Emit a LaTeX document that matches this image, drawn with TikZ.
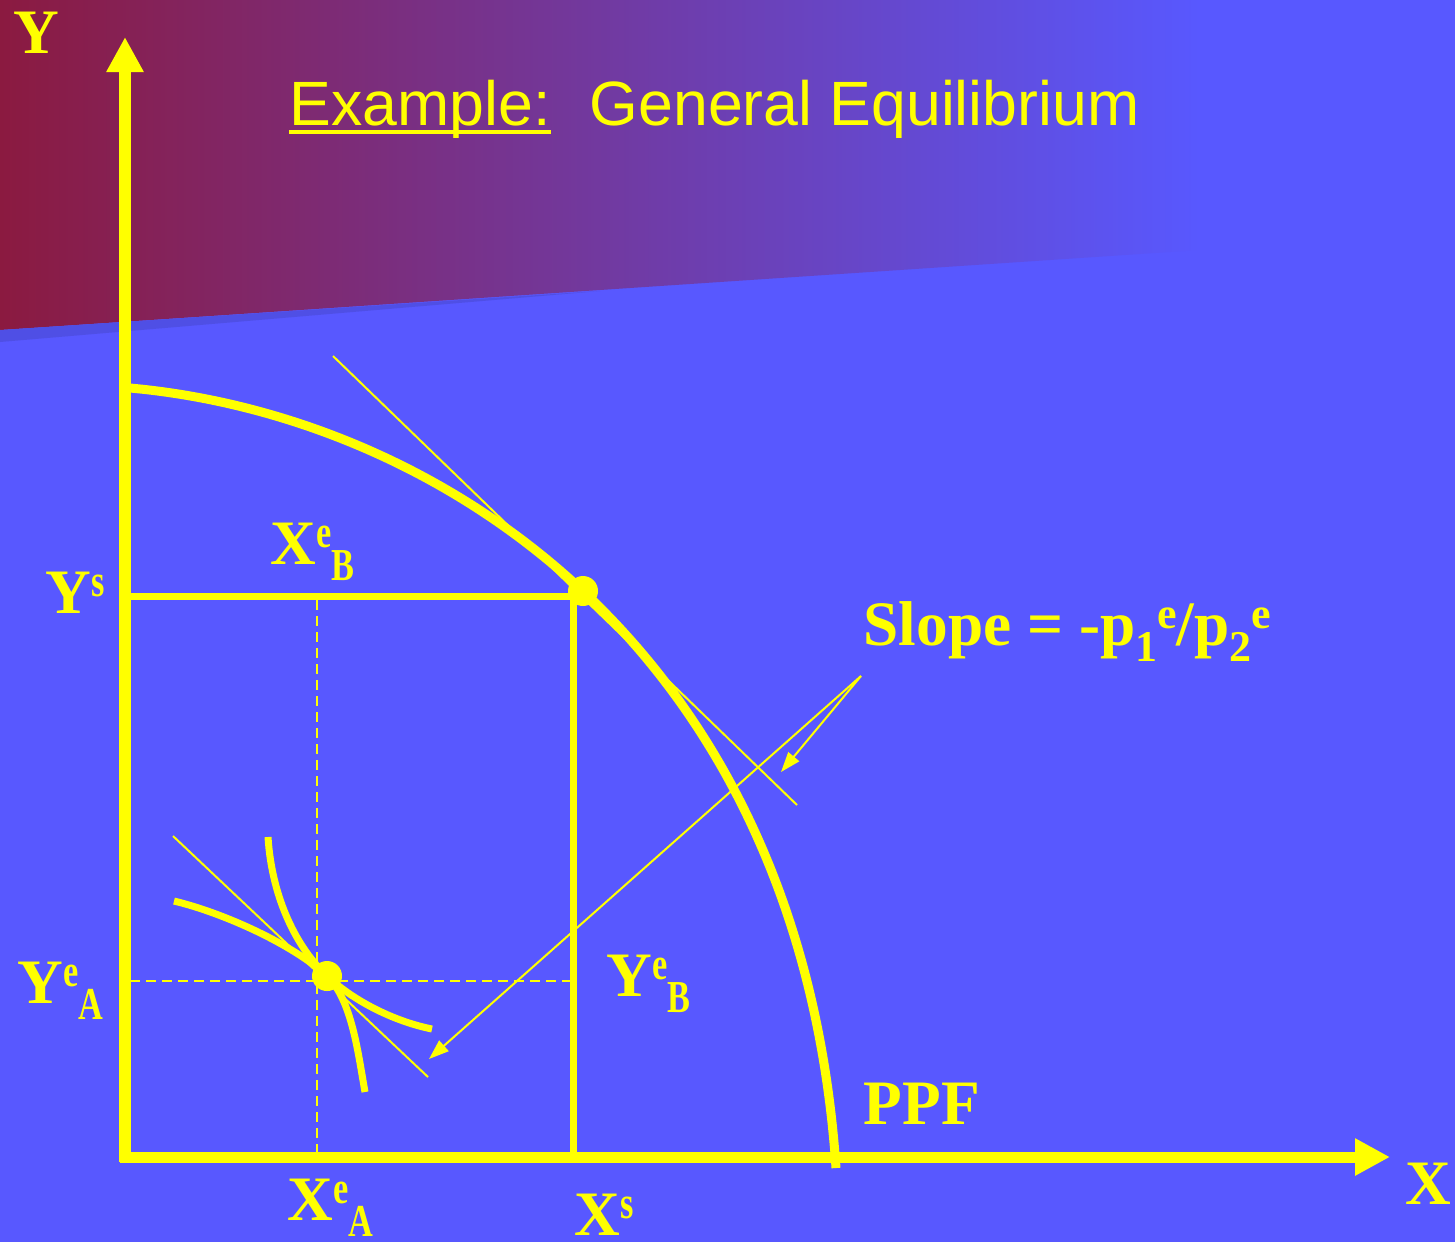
\documentclass[tikz,border=0pt]{standalone}
\usepackage{fontspec}
\setmainfont{Liberation Serif}
\newfontfamily\titlefont{Liberation Sans}
\usepackage{xcolor}
\usepackage{graphicx}
\definecolor{slideblue}{RGB}{88,88,255}
\definecolor{slidewine}{RGB}{139,26,64}
\definecolor{ppfyellow}{RGB}{255,255,0}
\usetikzlibrary{arrows.meta, positioning}
\newcommand{\supr}[1]{\raisebox{0.17cm}{\scalebox{0.75}[1]{\fontsize{13}{13}\selectfont #1}}}
\newcommand{\subr}[1]{\raisebox{-0.16cm}{\scalebox{0.75}[1]{\fontsize{13}{13}\selectfont #1}}}
\newcommand{\psup}[1]{\raisebox{0.17cm}{\fontsize{12.5}{12.5}\selectfont #1}}
\newcommand{\psub}[1]{\raisebox{-0.16cm}{\fontsize{12.5}{12.5}\selectfont #1}}

\begin{document}
\begin{tikzpicture}[x=0.01cm, y=-0.01cm,
        axis/.style={draw=ppfyellow, line width=0.11cm, -{Triangle[length=0.35cm, width=0.35cm]}},
        ppfline/.style={draw=ppfyellow, line width=0.09cm},
        boxline/.style={draw=ppfyellow, line width=0.07cm},
        icline/.style={draw=ppfyellow, line width=0.07cm},
        tanline/.style={draw=ppfyellow, line width=0.02cm},
        guide/.style={draw=ppfyellow, line width=0.018cm, dash pattern=on 0.1cm off 0.06cm},
        pointer/.style={draw=ppfyellow, line width=0.02cm, -{Triangle[length=0.2cm, width=0.14cm]}},
        eqdot/.style={circle, fill=ppfyellow, inner sep=0pt, minimum size=0.30cm},
        lbl/.style={text=ppfyellow, font=\fontsize{18}{18}\selectfont\bfseries, inner sep=0pt, anchor=base west},
        titletext/.style={text=ppfyellow, font=\titlefont\fontsize{17.8}{18}\selectfont, inner sep=0pt, anchor=base west}]

    % background
    \useasboundingbox (0,0) rectangle (1455,1242);
    \fill[slideblue] (0,0) rectangle (1455,1242);
    \shade[left color=slidewine, right color=slideblue] (0,0) -- (1200,0) -- (1200,250) -- (0,330) -- cycle;
    \fill[slideblue!90!black] (0,330) -- (600,291) -- (0,342) -- cycle;

    % title
    \node[titletext] (ex) at (289,125) {Example:};
    \node[titletext] (title) at (589,125) {General Equilibrium};
    \draw[ppfyellow, line width=0.04cm] ([yshift=-0.07cm]ex.base west) -- ([yshift=-0.07cm]ex.base east);

    \coordinate (origin) at (125,1162);
    \coordinate (ytip) at (125,37);
    \coordinate (xstart) at (120,1157);
    \coordinate (xtip) at (1390,1157);
    \coordinate (ppftop) at (130,388);
    \coordinate (ppfbot) at (836,1168);
    \coordinate (ysleft) at (129,596);
    \coordinate (ysright) at (576,596);
    \coordinate (xstop) at (573,596);
    \coordinate (xsbot) at (573,1154);
    \coordinate (xbtop) at (317,600);
    \coordinate (xbbot) at (317,1152);
    \coordinate (yaleft) at (130,981);
    \coordinate (yaright) at (570,981);
    \coordinate (tanBa) at (333,356);
    \coordinate (tanBb) at (797,805);
    \coordinate (tanAa) at (173,836);
    \coordinate (tanAb) at (428,1077);
    \coordinate (icAtop) at (268,837);
    \coordinate (icAend) at (432,1029);
    \coordinate (icBtop) at (174,901);
    \coordinate (icBend) at (365,1092);
    \coordinate (apex) at (861,676);
    \coordinate (tipB) at (781,772);
    \coordinate (tipA) at (429,1059);

    % guides and box
    \path[guide] (xbtop) -- (xbbot);
    \path[guide] (yaleft) -- (yaright);
    \path[boxline] (ysleft) -- (ysright);
    \path[boxline] (xstop) -- (xsbot);

    % axes
    \path[axis] (origin) -- (ytip);
    \path[axis] (xstart) -- (xtip);

    % PPF and price line
    \path[ppfline] (ppftop) .. controls (430,415) and (800,640) .. (ppfbot);
    \path[tanline] (tanBa) -- (tanBb);

    % indifference curves
    \path[tanline] (tanAa) -- (tanAb);
    \path[icline] (icAtop) .. controls (272,900) and (298,949) .. (327,976)
        .. controls (356,1003) and (397,1022) .. (icAend);
    \path[icline] (icBtop) .. controls (224,913) and (294,945) .. (327,976)
        .. controls (352,1000) and (358,1053) .. (icBend);

    \node[eqdot] (eqB) at (583,591) {};
    \node[eqdot] (eqA) at (327,976) {};

    % slope pointers
    \path[pointer] (apex) -- (tipB);
    \path[pointer] (apex) -- (tipA);

    % labels
    \node[lbl] (ylab) at (13,53) {Y};
    \node[lbl] (xlab) at (1405,1204) {X};
    \node[lbl] (yslab) at (45,613) {Y\supr{s}};
    \node[lbl] (xeblab) at (270,564) {X\supr{e}\subr{B}};
    \node[lbl] (yealab) at (17,1003) {Y\supr{e}\subr{A}};
    \node[lbl] (yeblab) at (606,996) {Y\supr{e}\subr{B}};
    \node[lbl] (xealab) at (287,1220) {X\supr{e}\subr{A}};
    \node[lbl] (xslab) at (574,1235) {X\supr{s}};
    \node[lbl] (ppflab) at (863,1124) {PPF};
    \node[lbl] (slopelab) at (863,645) {Slope = -p\psub{1}\psup{e}/p\psub{2}\psup{e}};
\end{tikzpicture}
\end{document}
